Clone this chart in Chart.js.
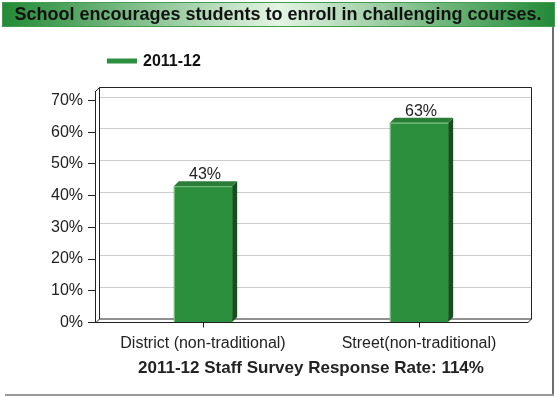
<!DOCTYPE html>
<html>
<head>
<meta charset="utf-8">
<script src="https://cdn.jsdelivr.net/npm/chart.js@4/dist/chart.umd.min.js"></script>
<style>
  html, body { margin: 0; padding: 0; background: #fff; }
</style>
</head>
<body>
<canvas id="chart" width="557" height="397"></canvas>
<script>
const chartTitle = "School encourages students to enroll in challenging courses.";
const categories = ["District (non-traditional)", "Street(non-traditional)"];
const seriesLabel = "2011-12";
const seriesValues = [43, 63];
const yTicks = [0, 10, 20, 30, 40, 50, 60, 70];
const axisTitle = "2011-12 Staff Survey Response Rate: 114%";

const FONT = "'Liberation Sans', Arial, sans-serif";
const GREEN = "#2b8f3d";
const DEPTH = 4;

// title bar, outer frame and legend
const framePlugin = {
  id: "frame",
  beforeDraw(chart) {
    const ctx = chart.ctx;
    ctx.save();
    const g = ctx.createLinearGradient(2, 0, 555, 0);
    g.addColorStop(0, "#228a36");
    g.addColorStop(0.5, "#e4f4e4");
    g.addColorStop(1, "#228a36");
    ctx.fillStyle = g;
    ctx.fillRect(2, 2, 553, 25);
    ctx.strokeStyle = "#3f9f4d";
    ctx.lineWidth = 1;
    ctx.strokeRect(2.5, 2.5, 552, 24);

    ctx.fillStyle = "#111";
    ctx.font = "bold 18px " + FONT;
    ctx.textAlign = "center";
    ctx.textBaseline = "middle";
    ctx.fillText(chartTitle, 278, 15);

    ctx.strokeStyle = "#6e6e6e";
    ctx.lineWidth = 2;
    ctx.beginPath();
    ctx.moveTo(553, 27);
    ctx.lineTo(553, 396);
    ctx.stroke();
    ctx.strokeStyle = "#999";
    ctx.beginPath();
    ctx.moveTo(5, 395);
    ctx.lineTo(554, 395);
    ctx.stroke();

    // legend
    const ds = chart.data.datasets[0];
    ctx.strokeStyle = ds.backgroundColor;
    ctx.lineWidth = 5;
    ctx.beginPath();
    ctx.moveTo(107, 61);
    ctx.lineTo(137, 61);
    ctx.stroke();
    ctx.fillStyle = "#111";
    ctx.font = "bold 16px " + FONT;
    ctx.textAlign = "left";
    ctx.fillText(ds.label, 143, 62);
    ctx.restore();
  }
};

// 3D walls, back grid lines, bar sides and value labels
const threeDPlugin = {
  id: "threeD",
  beforeDatasetsDraw(chart) {
    const { ctx, chartArea: a, scales: { y } } = chart;
    const d = DEPTH;
    ctx.save();
    ctx.lineWidth = 1;
    ctx.strokeStyle = "#cccccc";
    y.ticks.forEach(t => {
      if (t.value === 0) return;
      const py = Math.round(y.getPixelForValue(t.value)) - d + 0.5;
      ctx.beginPath();
      ctx.moveTo(a.left + d, py);
      ctx.lineTo(a.right + d, py);
      ctx.stroke();
    });
    ctx.strokeStyle = "#222";
    ctx.beginPath();
    ctx.moveTo(a.left + 0.5, a.top + 0.5);
    ctx.lineTo(a.left + d + 0.5, a.top - d + 0.5);
    ctx.lineTo(a.right + d + 0.5, a.top - d + 0.5);
    ctx.lineTo(a.right + d + 0.5, a.bottom - d + 0.5);
    ctx.lineTo(a.right + 0.5, a.bottom + 0.5);
    ctx.moveTo(a.left + d + 0.5, a.top - d + 0.5);
    ctx.lineTo(a.left + d + 0.5, a.bottom - d + 0.5);
    ctx.lineTo(a.right + d + 0.5, a.bottom - d + 0.5);
    ctx.moveTo(a.left + 0.5, a.bottom + 0.5);
    ctx.lineTo(a.left + d + 0.5, a.bottom - d + 0.5);
    ctx.stroke();
    ctx.restore();
  },
  afterDatasetsDraw(chart) {
    const ctx = chart.ctx;
    const d = DEPTH + 1;
    const meta = chart.getDatasetMeta(0);
    ctx.save();
    meta.data.forEach((bar, i) => {
      const { x, y, base, width } = bar.getProps(["x", "y", "base", "width"], true);
      const l = x - width / 2, r = x + width / 2;
      ctx.fillStyle = "#17501f";
      ctx.beginPath();
      ctx.moveTo(r, y);
      ctx.lineTo(r + d, y - d);
      ctx.lineTo(r + d, base - d);
      ctx.lineTo(r, base);
      ctx.closePath();
      ctx.fill();
      ctx.fillStyle = "#2a7d37";
      ctx.beginPath();
      ctx.moveTo(l, y);
      ctx.lineTo(l + d, y - d);
      ctx.lineTo(r + d, y - d);
      ctx.lineTo(r, y);
      ctx.closePath();
      ctx.fill();
      ctx.fillStyle = "#7cc486";
      ctx.fillRect(l, y, 1, base - y);
      ctx.fillRect(l, y, width, 1);

      ctx.fillStyle = "#222";
      ctx.font = "16px " + FONT;
      ctx.textAlign = "center";
      ctx.textBaseline = "alphabetic";
      ctx.fillText(seriesValues[i] + "%", x + 2, y - d - 2);
    });
    ctx.restore();
  }
};

new Chart(document.getElementById("chart"), {
  type: "bar",
  data: {
    labels: categories,
    datasets: [{
      label: seriesLabel,
      data: seriesValues,
      backgroundColor: GREEN,
      barPercentage: 0.27,
      categoryPercentage: 1
    }]
  },
  options: {
    responsive: false,
    animation: false,
    layout: { padding: { left: 0, right: 30, top: 91, bottom: 18 } },
    plugins: {
      legend: { display: false },
      tooltip: { enabled: false },
      title: { display: false }
    },
    scales: {
      x: {
        afterFit(s) { s.height = 56.5; },
        grid: { display: true, drawOnChartArea: false, offset: false, tickLength: 5, color: "#222" },
        border: { display: true, color: "#222" },
        ticks: { color: "#222", font: { family: FONT, size: 16 }, padding: 6 },
        title: {
          display: true,
          text: axisTitle,
          color: "#222",
          font: { family: FONT, size: 17, weight: "bold" },
          padding: { top: 0, bottom: 0 }
        }
      },
      y: {
        min: 0,
        max: 73,
        afterFit(s) { s.width = 95; },
        afterBuildTicks(s) { s.ticks = yTicks.map(v => ({ value: v })); },
        grid: { display: true, drawOnChartArea: false, tickLength: 7, color: "#222" },
        border: { display: true, color: "#222" },
        ticks: {
          color: "#222",
          font: { family: FONT, size: 16 },
          padding: 5,
          callback: v => v + "%"
        }
      }
    }
  },
  plugins: [framePlugin, threeDPlugin]
});
</script>
</body>
</html>
